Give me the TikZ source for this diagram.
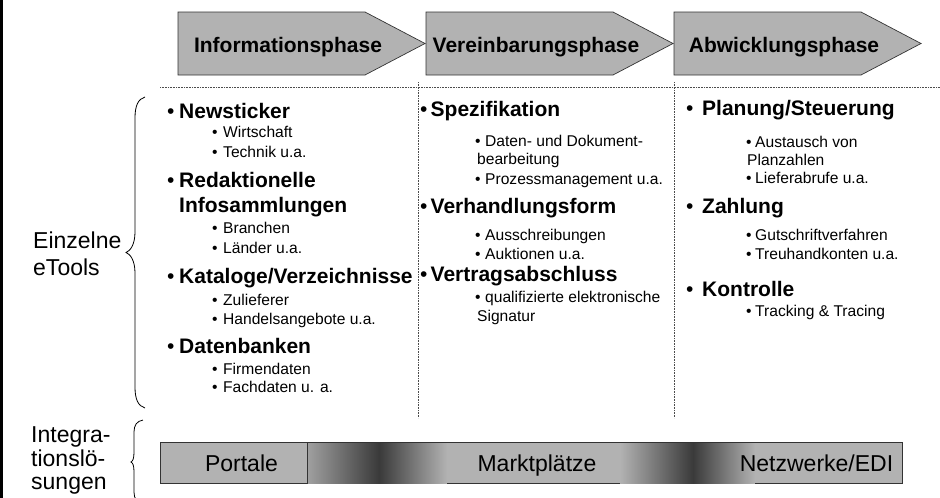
\documentclass[tikz,border=0pt]{standalone}
\usepackage{fontspec}
\setmainfont{Liberation Sans}
\usepackage{xcolor}
\definecolor{phasengrau}{RGB}{178,178,178}
\definecolor{verlaufdunkel}{RGB}{58,58,58}
\newcommand{\hauptpunkt}[2][12pt]{\makebox[#1][l]{\textbullet}\textbf{#2}}
\newcommand{\unterpunkt}[2][11pt]{\makebox[#1][l]{\textbullet}#2}

\begin{document}
\begin{tikzpicture}[x=1pt, y=-1pt, every node/.style={inner sep=0pt},
  phase/.style={draw=black!80, fill=phasengrau, line width=0.7pt},
  phasetext/.style={anchor=base, font=\fontsize{21}{25}\selectfont\bfseries},
  haupt/.style={anchor=base west, font=\fontsize{21}{25}\selectfont},
  unter/.style={anchor=base west, font=\fontsize{15.6}{19}\selectfont},
  etikett/.style={anchor=base west, font=\fontsize{23}{27}\selectfont},
  trenn/.style={densely dotted, line width=0.6pt, black!70},
  klammer/.style={line width=0.8pt},
  balkentext/.style={anchor=base, font=\fontsize{23}{27}\selectfont}]
\useasboundingbox (0,0) rectangle (940,498);
% Rand links
\draw[line width=2.6pt] (1.8,0) -- (1.8,498);
% Phasen
\foreach \x/\name/\titel in {178/info/Informationsphase, 426/verein/Vereinbarungsphase, 674/abwickl/Abwicklungsphase} {
  \draw[phase] (\x,12) -- ++(187,0) -- ++(60,31.5) -- ++(-60,31.5) -- ++(-187,0) -- cycle;
  \node[phasetext] (\name) at (\x+110,52) {\titel};
}
% Trennlinien
\draw[trenn] (160,87) -- (940,87);
\draw[trenn] (418,82) -- (418,418);
\draw[trenn] (674,82) -- (674,418);
% Spalte 1
\node[haupt] (news) at (167,118) {\hauptpunkt{Newsticker}};
\node[unter] (wirt) at (212,137) {\unterpunkt{Wirtschaft}};
\node[unter] (tech) at (212,157) {\unterpunkt{Technik u.a.}};
\node[haupt] (redak) at (167,187) {\hauptpunkt{Redaktionelle}};
\node[haupt] (infos) at (179,212) {\textbf{Infosammlungen}};
\node[unter] (branch) at (212,233) {\unterpunkt{Branchen}};
\node[unter] (laend) at (212,253) {\unterpunkt{Länder u.a.}};
\node[haupt] (katal) at (167,283) {\hauptpunkt{Kataloge/Verzeichnisse}};
\node[unter] (zulief) at (212,305) {\unterpunkt{Zulieferer}};
\node[unter] (handel) at (212,324) {\unterpunkt{Handelsangebote u.a.}};
\node[haupt] (datenb) at (167,353) {\hauptpunkt{Datenbanken}};
\node[unter] (firm) at (212,374) {\unterpunkt{Firmendaten}};
\node[unter] (fach) at (212,392) {\unterpunkt{Fachdaten u. a.}};
% Spalte 2
\node[haupt] (spez) at (420,116) {\hauptpunkt[10.5pt]{Spezifikation}};
\node[unter] (datdok) at (475,146) {\unterpunkt[10pt]{Daten- und Dokument-}};
\node[unter] (bearb) at (477,164) {bearbeitung};
\node[unter] (proz) at (475,184) {\unterpunkt[10pt]{Prozessmanagement u.a.}};
\node[haupt] (verh) at (420,213) {\hauptpunkt[10.5pt]{Verhandlungsform}};
\node[unter] (ausschr) at (475,240) {\unterpunkt[10pt]{Ausschreibungen}};
\node[unter] (aukt) at (475,259) {\unterpunkt[10pt]{Auktionen u.a.}};
\node[haupt] (vertr) at (420,281) {\hauptpunkt[10.5pt]{Vertragsabschluss}};
\node[unter] (quali) at (475,302) {\unterpunkt[10pt]{qualifizierte elektronische}};
\node[unter] (signa) at (477,321) {Signatur};
% Spalte 3
\node[haupt] (plan) at (686,115) {\hauptpunkt[16pt]{Planung/Steuerung}};
\node[unter] (austausch) at (746,147) {\unterpunkt[9pt]{Austausch von}};
\node[unter] (planz) at (747,165) {Planzahlen};
\node[unter] (liefer) at (746,183) {\unterpunkt[9pt]{Lieferabrufe u.a.}};
\node[haupt] (zahl) at (686,213) {\hauptpunkt[16pt]{Zahlung}};
\node[unter] (gutschr) at (746,240) {\unterpunkt[9pt]{Gutschriftverfahren}};
\node[unter] (treuh) at (746,259) {\unterpunkt[9pt]{Treuhandkonten u.a.}};
\node[haupt] (kontr) at (686,296) {\hauptpunkt[16pt]{Kontrolle}};
\node[unter] (track) at (746,316) {\unterpunkt[9pt]{Tracking \& Tracing}};
% Beschriftung links
\node[etikett] (einzelne) at (33,248) {Einzelne};
\node[etikett] (etools) at (33,275) {eTools};
\node[etikett] (integra) at (31,442) {Integra-};
\node[etikett] (tionslo) at (31,466) {tionslö-};
\node[etikett] (sungen) at (31,489) {sungen};
\draw[klammer] (145,97) .. controls (138,99) and (135,106) .. (135,118) -- (135,232)
  .. controls (135,245) and (130,251) .. (126,252.5) .. controls (130,254) and (135,260) .. (135,273)
  -- (135,387) .. controls (135,399) and (138,406) .. (145,408);
\draw[klammer] (143,420) .. controls (137,421) and (134,425) .. (134,432) -- (134,452)
  .. controls (134,458) and (133,461) .. (131,462) .. controls (133,463) and (134,466) .. (134,472)
  -- (134,492) .. controls (134,499) and (137,503) .. (143,504);
% Integrationsbalken
\fill[phasengrau] (447,442) rectangle (620,483);
\fill[phasengrau] (755,442) rectangle (902,483);
\shade[left color=phasengrau!90!black, right color=verlaufdunkel] (307,442) rectangle (379,483);
\shade[left color=verlaufdunkel, right color=phasengrau] (379,442) rectangle (447,483);
\shade[left color=phasengrau, right color=verlaufdunkel] (620,442) rectangle (693,483);
\shade[left color=verlaufdunkel, right color=phasengrau] (693,442) rectangle (755,483);
\draw[phase] (160,442) rectangle (307,483);
\draw[line width=0.7pt, black!80] (307,442) -- (902,442) -- (902,483) -- (755,483);
\draw[line width=0.7pt, black!80] (447,483) -- (620,483);
\node[balkentext] (portale) at (241.5,471.5) {Portale};
\node[balkentext] (markt) at (537,471.5) {Marktplätze};
\node[balkentext] (netz) at (816.5,471.5) {Netzwerke/EDI};
\end{tikzpicture}
\end{document}
